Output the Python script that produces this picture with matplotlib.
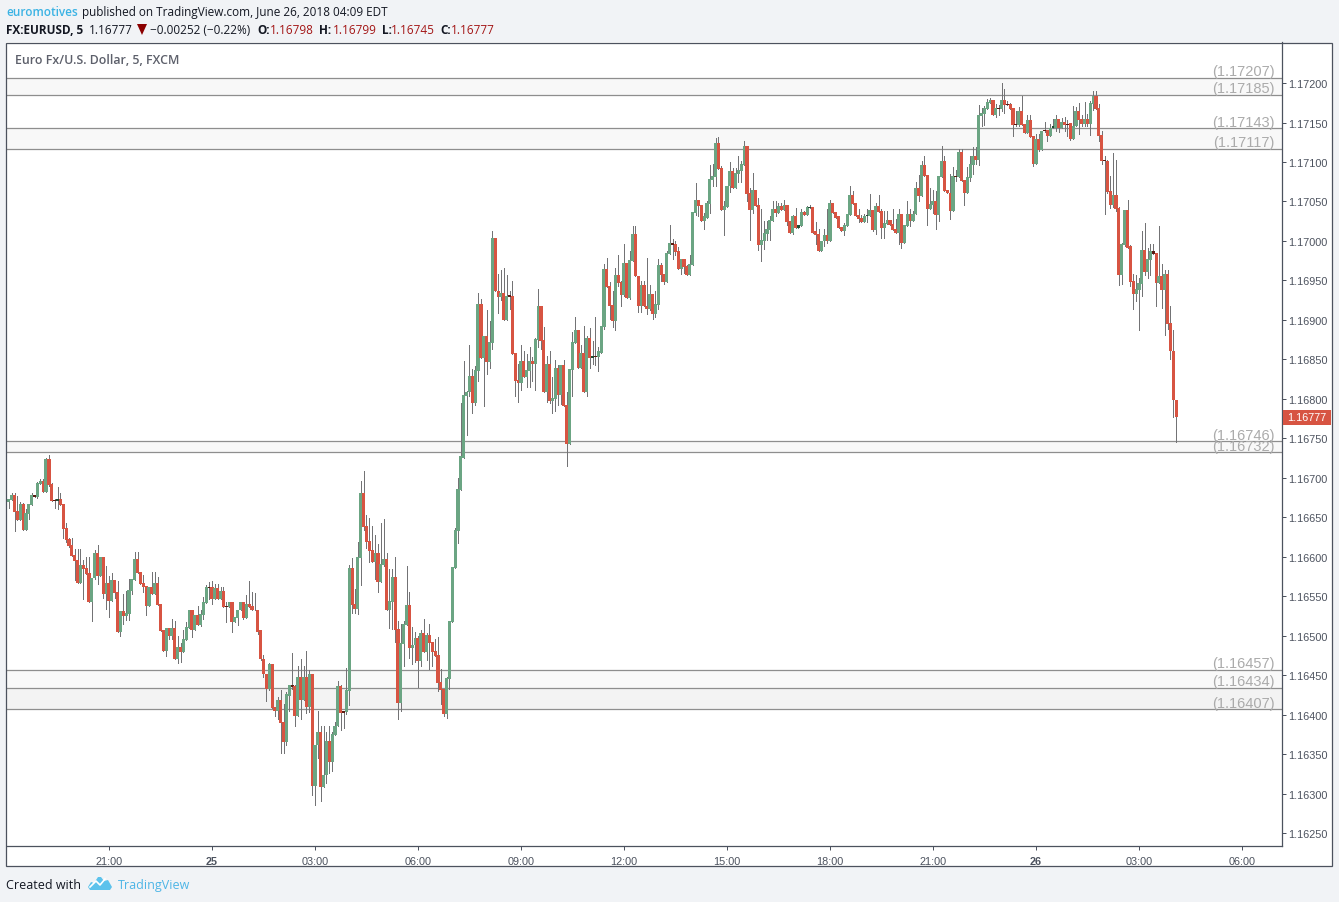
import numpy as np
import matplotlib
matplotlib.use("Agg")
import matplotlib.pyplot as plt
from matplotlib.patches import Rectangle, Polygon

# 5 minute EURUSD candles, prices as 1e-5 above 1.0 (16777 -> 1.16777)
opens = [
16669,16672,16678,16658,16646,16667,16634,16654,16665,16678,
16676,16692,16696,16682,16724,16692,16672,16671,16673,16667,
16636,16622,16615,16602,16596,16567,16589,16586,16579,16543,
16573,16605,16575,16600,16553,16567,16544,16570,16555,16505,
16531,16525,16527,16556,16570,16597,16581,16567,16563,16537,
16562,16553,16567,16540,16507,16480,16510,16500,16510,16470,
16486,16479,16494,16510,16532,16507,16526,16513,16526,16541,
16562,16561,16546,16560,16546,16557,16537,16536,16542,16517,
16522,16532,16542,16522,16540,16537,16533,16533,16507,16471,
16452,16433,16464,16409,16405,16418,16390,16365,16424,16437,
16436,16398,16447,16419,16448,16409,16451,16309,16361,16378,
16308,16323,16366,16340,16374,16385,16436,16404,16403,16430,
16586,16540,16534,16598,16681,16639,16620,16608,16593,16605,
16568,16589,16597,16532,16543,16574,16508,16415,16489,16513,
16539,16484,16488,16497,16468,16503,16479,16501,16492,16480,
16475,16441,16432,16401,16445,16517,16586,16632,16685,16725,
16804,16808,16829,16795,16835,16920,16852,16879,16847,16871,
17004,16937,16929,16934,16900,16932,16930,16858,16824,16820,
16848,16828,16835,16848,16844,16875,16918,16875,16809,16844,
16797,16800,16839,16805,16843,16792,16743,16837,16871,16887,
16839,16858,16809,16877,16852,16854,16853,16858,16891,16965,
16943,16919,16899,16957,16948,16932,16972,16928,16975,17009,
16956,16918,16944,16918,16914,16933,16908,16919,16970,16958,
16948,16984,16998,16996,16987,16965,16977,16968,16957,16970,
17036,17052,17046,17025,17029,17047,17077,17081,17124,17093,
17039,17043,17069,17088,17067,17085,17089,17096,17120,17061,
17039,17065,17046,16995,17000,17009,17014,17025,17041,17036,
17044,17039,17046,17025,17010,17031,17017,17019,17037,17033,
17042,17043,17012,17009,16987,17000,17008,17000,17048,17037,
17031,17018,17013,17019,17033,17058,17048,17033,17029,17024,
17031,17032,17039,17014,17044,17038,17017,17022,17027,17022,
17015,17010,17034,16998,17019,17034,17025,17034,17067,17057,
17096,17084,17041,17046,17050,17033,17081,17101,17065,17061,
17038,17082,17081,17113,17077,17061,17080,17096,17108,17103,
17158,17161,17167,17175,17179,17160,17169,17167,17179,17174,
17174,17169,17148,17147,17164,17148,17137,17153,17133,17098,
17129,17115,17141,17141,17133,17143,17143,17155,17143,17151,
17148,17150,17129,17145,17164,17155,17148,17155,17148,17174,
17183,17169,17134,17103,17101,17063,17046,17058,17042,16957,
16995,17039,16993,16949,16933,16938,16946,16989,16961,16976,
16987,16985,16947,16956,16938,16958,16896,16861,16798]
closes = [
16673,16678,16657,16646,16667,16634,16655,16667,16678,16676,
16693,16696,16682,16724,16691,16670,16671,16673,16665,16635,
16621,16613,16601,16594,16567,16589,16584,16578,16543,16573,
16605,16575,16600,16553,16567,16544,16570,16554,16505,16531,
16525,16529,16558,16572,16597,16579,16565,16562,16537,16562,
16553,16567,16539,16506,16480,16510,16500,16510,16470,16486,
16479,16496,16511,16532,16507,16526,16513,16527,16542,16562,
16560,16546,16560,16546,16557,16536,16536,16542,16517,16523,
16533,16542,16522,16540,16536,16532,16532,16505,16470,16451,
16433,16464,16408,16405,16418,16389,16365,16426,16437,16435,
16398,16447,16419,16448,16409,16451,16309,16361,16378,16308,
16324,16366,16340,16375,16386,16436,16402,16402,16431,16586,
16539,16534,16600,16681,16638,16619,16607,16593,16605,16568,
16591,16597,16532,16544,16574,16507,16415,16491,16515,16539,
16484,16488,16497,16468,16503,16479,16501,16491,16479,16474,
16440,16431,16401,16446,16518,16587,16634,16686,16727,16805,
16809,16829,16795,16837,16920,16852,16879,16847,16872,17004,
16936,16929,16934,16900,16930,16929,16857,16823,16820,16848,
16828,16837,16848,16844,16876,16918,16873,16809,16844,16797,
16801,16839,16805,16843,16791,16743,16838,16872,16887,16839,
16858,16809,16877,16852,16854,16853,16860,16892,16965,16942,
16918,16899,16957,16947,16932,16972,16928,16976,17009,16955,
16918,16944,16917,16914,16933,16908,16920,16970,16957,16948,
16985,16998,16995,16986,16965,16977,16967,16957,16971,17037,
17052,17044,17025,17031,17048,17079,17082,17124,17091,17039,
17044,17070,17088,17067,17086,17090,17098,17120,17060,17039,
17065,17044,16995,17001,17010,17015,17027,17041,17036,17044,
17039,17046,17024,17010,17031,17017,17020,17037,17033,17043,
17043,17010,17008,16987,17000,17008,17000,17048,17036,17029,
17017,17013,17020,17034,17058,17047,17032,17028,17024,17032,
17033,17039,17014,17044,17037,17017,17023,17027,17020,17014,
17010,17034,16998,17020,17034,17025,17034,17067,17057,17096,
17082,17041,17047,17050,17033,17082,17101,17063,17061,17038,
17082,17081,17113,17076,17061,17081,17098,17108,17103,17160,
17162,17169,17176,17179,17160,17169,17167,17179,17172,17172,
17167,17147,17147,17164,17147,17137,17153,17132,17098,17129,
17115,17139,17139,17133,17143,17145,17155,17143,17151,17147,
17147,17129,17146,17164,17153,17148,17155,17148,17175,17183,
17167,17133,17101,17101,17062,17046,17058,17041,16957,16996,
17039,16991,16948,16933,16939,16947,16989,16961,16977,16987,
16984,16947,16956,16938,16958,16895,16860,16799,16777]
highs = [
16673,16681,16681,16677,16669,16668,16660,16667,16681,16678,
16695,16698,16698,16725,16729,16693,16673,16688,16681,16667,
16643,16624,16624,16610,16610,16610,16596,16600,16600,16573,
16608,16615,16600,16600,16588,16575,16579,16570,16569,16531,
16553,16556,16572,16572,16606,16606,16581,16577,16563,16562,
16581,16581,16574,16540,16507,16510,16510,16521,16518,16500,
16491,16507,16517,16532,16532,16526,16537,16532,16549,16564,
16568,16569,16566,16566,16561,16562,16542,16542,16542,16523,
16533,16543,16542,16551,16569,16555,16554,16533,16507,16476,
16452,16465,16464,16409,16422,16431,16413,16428,16438,16478,
16438,16461,16471,16462,16481,16457,16451,16361,16404,16385,
16385,16378,16386,16378,16391,16442,16437,16404,16459,16589,
16598,16559,16619,16696,16708,16653,16649,16639,16627,16616,
16643,16648,16605,16584,16584,16600,16518,16515,16518,16588,
16555,16511,16505,16499,16507,16521,16503,16515,16492,16496,
16498,16458,16432,16448,16518,16587,16636,16700,16795,16848,
16810,16868,16838,16842,16934,16927,16879,16913,16899,17012,
17004,16958,16963,16966,16957,16937,16949,16858,16844,16868,
16861,16857,16866,16853,16877,16939,16918,16891,16854,16860,
16827,16849,16843,16843,16849,16809,16838,16885,16904,16887,
16868,16892,16880,16890,16873,16904,16865,16892,16971,16979,
16948,16936,16966,16982,16949,16996,16972,16987,17019,17019,
16956,16949,16949,16979,16944,16933,16936,16977,16972,16958,
16987,17020,17003,17000,16992,16977,16977,16970,16982,17037,
17074,17052,17046,17036,17051,17096,17098,17131,17132,17095,
17050,17070,17100,17093,17093,17108,17101,17126,17120,17067,
17086,17065,17055,17041,17025,17025,17032,17051,17050,17048,
17048,17052,17046,17025,17033,17042,17020,17041,17038,17044,
17046,17043,17024,17015,17000,17015,17041,17052,17048,17037,
17031,17018,17023,17034,17069,17063,17048,17041,17033,17034,
17041,17060,17039,17048,17058,17041,17038,17038,17027,17041,
17028,17041,17034,17020,17050,17041,17038,17075,17084,17101,
17107,17084,17067,17065,17063,17082,17120,17107,17065,17085,
17094,17090,17117,17117,17077,17094,17108,17119,17119,17172,
17169,17171,17180,17181,17179,17174,17172,17200,17193,17177,
17175,17169,17164,17170,17184,17148,17160,17160,17133,17136,
17136,17139,17151,17141,17148,17155,17160,17155,17156,17157,
17153,17150,17171,17170,17175,17160,17176,17161,17177,17190,
17190,17174,17139,17107,17103,17082,17112,17103,17043,16998,
17039,17052,16995,16958,16957,16953,17012,17023,16991,16996,
16996,16985,17019,16971,16963,16963,16917,16887,16799]
lows = [
16662,16672,16633,16646,16646,16634,16634,16648,16665,16676,
16674,16692,16682,16682,16689,16670,16662,16660,16665,16624,
16619,16612,16601,16570,16567,16567,16546,16578,16543,16518,
16572,16565,16575,16548,16534,16524,16544,16548,16505,16500,
16515,16520,16520,16553,16570,16579,16565,16555,16526,16537,
16553,16553,16539,16506,16480,16474,16496,16496,16470,16465,
16467,16479,16494,16510,16498,16507,16513,16512,16521,16541,
16546,16540,16546,16546,16546,16536,16517,16536,16504,16517,
16513,16532,16521,16522,16536,16532,16532,16502,16469,16447,
16417,16431,16408,16398,16395,16351,16351,16361,16405,16432,
16385,16398,16394,16419,16402,16403,16298,16286,16345,16290,
16308,16313,16326,16328,16374,16385,16381,16383,16401,16412,
16529,16529,16527,16564,16634,16611,16593,16593,16572,16555,
16568,16588,16532,16510,16508,16492,16394,16404,16461,16513,
16472,16464,16467,16435,16461,16479,16469,16458,16461,16474,
16430,16413,16398,16396,16432,16517,16586,16617,16685,16725,
16754,16803,16782,16792,16823,16852,16791,16832,16839,16863,
16936,16909,16925,16900,16900,16914,16857,16803,16796,16811,
16828,16815,16815,16823,16811,16866,16863,16809,16796,16795,
16782,16785,16792,16794,16791,16715,16743,16803,16871,16839,
16839,16809,16804,16839,16844,16843,16835,16858,16889,16942,
16901,16891,16887,16943,16917,16930,16928,16927,16975,16955,
16910,16910,16917,16908,16913,16901,16903,16914,16949,16946,
16948,16984,16977,16982,16965,16958,16960,16957,16957,16970,
17033,17031,17025,17015,17029,17036,17069,17069,17091,17039,
17008,17043,17062,17067,17067,17075,17075,17096,17050,17001,
17036,17044,16989,16975,16990,17001,17001,17025,17032,17036,
17039,17039,17020,17010,17009,17017,17017,17019,17033,17033,
17042,17010,16996,16987,16987,16994,16998,17000,17036,17029,
17017,17013,17008,17019,17033,17047,17032,17024,17024,17024,
17024,17032,17013,17009,17037,17004,17004,17022,17020,17014,
17010,16996,16991,16998,17019,17019,17025,17034,17050,17057,
17082,17020,17041,17036,17015,17025,17081,17063,17061,17028,
17038,17076,17081,17076,17046,17061,17076,17085,17098,17096,
17145,17147,17167,17175,17160,17157,17160,17164,17162,17172,
17167,17133,17145,17145,17147,17137,17137,17132,17095,17098,
17114,17115,17138,17126,17133,17143,17139,17138,17143,17139,
17133,17128,17129,17145,17136,17145,17145,17145,17134,17166,
17167,17127,17098,17034,17061,17042,17043,17038,16944,16946,
16993,16991,16943,16914,16924,16887,16930,16957,16953,16957,
16984,16917,16947,16915,16881,16889,16851,16777,16745]

# horizontal levels drawn on the chart, and the shaded bands between them
levels = [1.17207, 1.17185, 1.17143, 1.17117, 1.16746, 1.16732, 1.16457, 1.16434, 1.16407]
level_labels = ["(1.17207)", "(1.17185)", "(1.17143)", "(1.17117)", "(1.16746)",
                "(1.16732)", "(1.16457)", "(1.16434)", "(1.16407)"]
bands = [(1.17185, 1.17207, "#f8f8f8"), (1.17117, 1.17143, "#f8f8f8"), (1.16732, 1.16746, "#f8f8f8"),
         (1.16434, 1.16457, "#f9f9f9"), (1.16407, 1.16434, "#f3f3f3")]

# candle number -> time label
time_ticks = [35, 71, 107, 143, 179, 215, 251, 287, 323, 359, 395, 431]
time_labels = ["21:00", "25", "03:00", "06:00", "09:00", "12:00", "15:00", "18:00", "21:00", "26", "03:00", "06:00"]
price_ticks = [1.1625 + 0.0005 * k for k in range(20)]
last_price = 1.16777

UP = "#6BA583"
DOWN = "#D75442"
WICK = "#737375"
BG = "#F1F3F6"
FRAME = "#4C525E"
W, H = 1339, 903

o = 1 + np.array(opens) / 1e5
c = 1 + np.array(closes) / 1e5
hi = 1 + np.array(highs) / 1e5
lo = 1 + np.array(lows) / 1e5
x = np.arange(len(o))

plt.rcParams["font.family"] = ["Liberation Sans", "DejaVu Sans"]
fig = plt.figure(figsize=(W / 100, H / 100), dpi=100, facecolor=BG)


def px(a, b):
    # picture pixels (from top left) to figure fractions
    return a / W, 1 - b / H


# outer frame, the price and time strips sit inside it
fig.add_artist(Rectangle(px(6.5, 866.5), 1325 / W, 823 / H, transform=fig.transFigure,
                         facecolor="white", lw=0, zorder=-5))
fig.add_artist(Rectangle(px(6.5, 866.5), 1325 / W, 823 / H, transform=fig.transFigure,
                         facecolor="none", edgecolor=FRAME, linewidth=0.9, zorder=5))

left, bottom = px(6.5, 847)
ax = fig.add_axes([left, bottom, 1275.5 / W, 804 / H], facecolor="white")
ax.set_xlim(-0.83, 445.0)
ax.set_ylim(1.162335, 1.17252)

for y0, y1, col in bands:
    ax.axhspan(y0, y1, color=col, lw=0, zorder=0)
for lev, lab in zip(levels, level_labels):
    ax.axhline(lev, color="#8e8e8e", lw=0.9, zorder=1)
    ax.annotate(lab, xy=(1, lev), xycoords=("axes fraction", "data"), xytext=(-7, -0.5),
                textcoords="offset pixels", ha="right", va="bottom", fontsize=10.5, color="#ababab")

ax.vlines(x, lo, hi, color=WICK, lw=0.72, zorder=2, antialiased=False)
colors = []
for i in range(len(o)):
    col = UP if c[i] >= o[i] else DOWN
    if abs(c[i] - o[i]) < 0.000035:
        col = "#1f4d35" if c[i] >= o[i] else "#5a1a12"
    colors.append(col)
ax.bar(x, np.abs(c - o), bottom=np.minimum(o, c), width=1.1, color=colors, lw=0, zorder=3, antialiased=False)

ax.yaxis.tick_right()
ax.set_yticks(price_ticks)
ax.set_yticklabels(["%.5f" % p for p in price_ticks])
ax.set_xticks(time_ticks)
ax.set_xticklabels(time_labels)
for lab in ax.get_xticklabels():
    if lab.get_text() in ("25", "26"):
        lab.set_fontweight("bold")
ax.tick_params(axis="both", length=3, width=0.72, color=FRAME, labelcolor="#4C525E", labelsize=7.8, pad=1.5)
ax.tick_params(axis="x", pad=4)
for s in ("left", "top"):
    ax.spines[s].set_visible(False)
for s in ("right", "bottom"):
    ax.spines[s].set_color(FRAME)
    ax.spines[s].set_linewidth(0.9)

# last price tag
fig.add_artist(Rectangle(px(1283, 426), 48 / W, 15 / H, transform=fig.transFigure, facecolor=DOWN, lw=0, zorder=6))
fig.text(*px(1307, 418.5), "%.5f" % last_price, color="white", ha="center", va="center", fontsize=7.8, zorder=7)


def head(xp, yp, s, color="#131722", weight="normal", size=8.5, family="Open Sans"):
    fig.text(*px(xp, yp), s, color=color, fontweight=weight, fontsize=size, family=family, va="center", ha="left")


DARKRED = "#A31515"
head(6, 12.5, "euromotives", color="#3BB3E4", weight="semibold")
head(82, 12.5, "published on TradingView.com, June 26, 2018 04:09 EDT")
head(6, 31, "FX:EURUSD, 5", weight="bold")
head(89, 31, "1.16777")
fig.add_artist(Polygon([px(137, 25), px(147, 25), px(142, 36)], transform=fig.transFigure, facecolor="#8B0000", lw=0))
head(150, 31, "\u22120.00252 (\u22120.22%)")
head(257, 31, "O:", weight="bold")
head(270, 31, "1.16798", color=DARKRED)
head(319, 31, "H:", weight="bold")
head(333, 31, "1.16799", color=DARKRED)
head(382, 31, "L:", weight="bold")
head(391, 31, "1.16745", color=DARKRED)
head(440, 31, "C:", weight="bold")
head(451, 31, "1.16777", color=DARKRED)

head(15, 61, "Euro Fx/U.S. Dollar, 5, FXCM", color="#5D606B", weight="semibold", size=8.9)

head(6, 886, "Created with", size=9)
head(118, 886, "TradingView", color="#4DB5E6", size=9)

# small cloud logo in the footer
cloud = [(88, 888), (91, 883), (94, 884), (98, 878), (101, 878), (104, 882), (108, 881), (112, 888), (110, 891),
         (90, 891)]
fig.add_artist(Polygon([px(a, b) for a, b in cloud], transform=fig.transFigure, facecolor="#5CC2EC", lw=0))
zig = [(90, 888), (96, 882), (100, 886), (105, 880)]
fig.add_artist(plt.Line2D([px(a, b)[0] for a, b in zig], [px(a, b)[1] for a, b in zig],
                          transform=fig.transFigure, color="white", lw=1.2))

fig.savefig("out.png", dpi=100, facecolor=BG)
